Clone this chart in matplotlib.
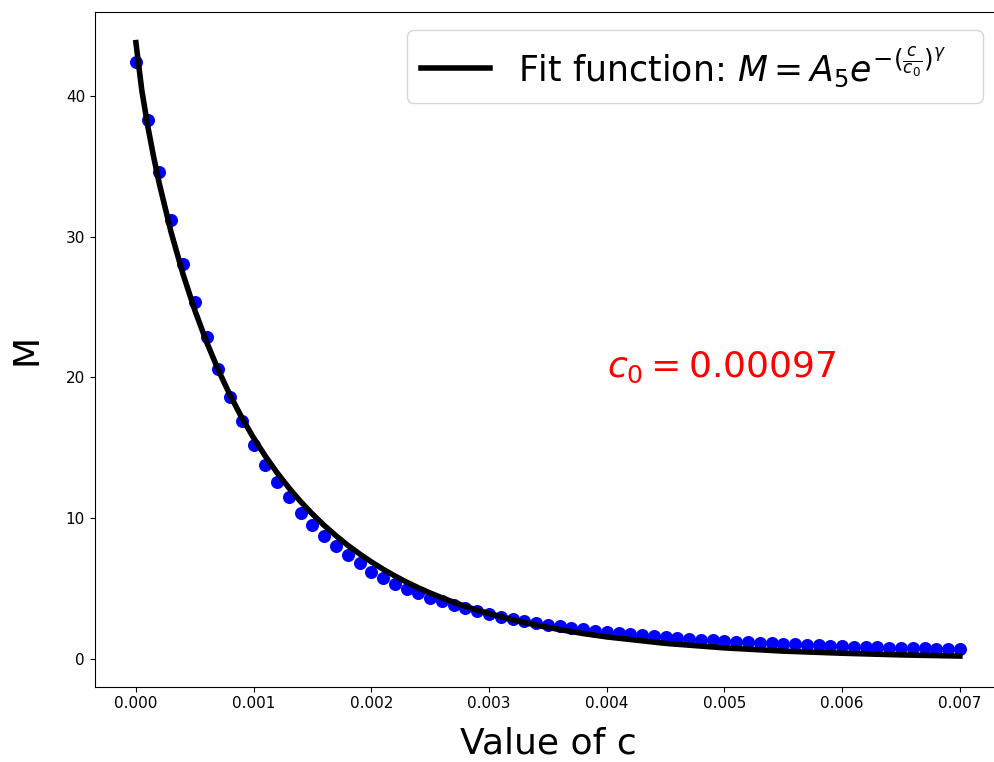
import matplotlib
matplotlib.use("Agg")
import matplotlib.pyplot as plt

c_data = [i * 0.0001 for i in range(71)]
m_data = [
    42.4, 38.3, 34.6, 31.2, 28.1, 25.4, 22.9, 20.6, 18.6, 16.9,
    15.2, 13.8, 12.6, 11.5, 10.4, 9.5, 8.7, 8.0, 7.4, 6.8,
    6.2, 5.75, 5.35, 5.0, 4.65, 4.35, 4.08, 3.82, 3.6, 3.38,
    3.18, 3.0, 2.84, 2.69, 2.55, 2.42, 2.3, 2.19, 2.09, 1.99,
    1.9, 1.82, 1.74, 1.67, 1.6, 1.54, 1.48, 1.42, 1.37, 1.32,
    1.27, 1.22, 1.18, 1.14, 1.1, 1.06, 1.03, 0.99, 0.96, 0.93,
    0.9, 0.87, 0.85, 0.82, 0.8, 0.78, 0.76, 0.74, 0.72, 0.7,
    0.68,
]

# --- fit curve ---
c_fit = [0.0, 0.00005, 0.0001, 0.00015, 0.0002, 0.0003, 0.0004, 0.0005,
         0.0006, 0.0007, 0.0008, 0.0009, 0.0010, 0.0011, 0.0012, 0.0013,
         0.0014, 0.0015, 0.0016, 0.0017, 0.0018, 0.0019, 0.0020, 0.0021,
         0.0022, 0.0023, 0.0024, 0.0025, 0.0026, 0.0027, 0.0028, 0.0029,
         0.0030, 0.0032, 0.0034, 0.0036, 0.0038, 0.0040, 0.0045, 0.0050,
         0.0055, 0.0060, 0.0065, 0.0070]
m_fit = [43.8, 40.41, 37.89, 35.70, 33.73, 30.29, 27.35, 24.79,
         22.53, 20.53, 18.74, 17.14, 15.70, 14.40, 13.22, 12.15,
         11.17, 10.29, 9.48, 8.75, 8.07, 7.46, 6.89, 6.37,
         5.89, 5.45, 5.05, 4.68, 4.34, 4.02, 3.73, 3.46,
         3.22, 2.78, 2.40, 2.08, 1.80, 1.56, 1.10, 0.78,
         0.55, 0.40, 0.28, 0.20]

fig = plt.figure(figsize=(9.94, 7.62), dpi=100)
# axes run a little past the right edge of the image, as in the original crop
ax = fig.add_axes([0.0953, 0.0988, 0.9118, 0.8855])

ax.scatter(c_data, m_data, color="blue", s=70, zorder=2)
ax.plot(c_fit, m_fit, color="black", lw=4, zorder=3,
        label=r"Fit function: $M = A_5 e^{-(\frac{c}{c_0})^\gamma}$" + "   ")

ax.text(0.004, 20, r"$c_0 = 0.00097$", color="red", fontsize=26)

ax.set_xlabel("Value of c", fontsize=26, labelpad=11)
ax.set_ylabel("M", fontsize=26, labelpad=16)
ax.tick_params(labelsize=11)
ax.legend(loc="upper right", fontsize=25, borderaxespad=0,
          bbox_to_anchor=(0.980, 0.973))

fig.savefig("out.png", dpi=100)
